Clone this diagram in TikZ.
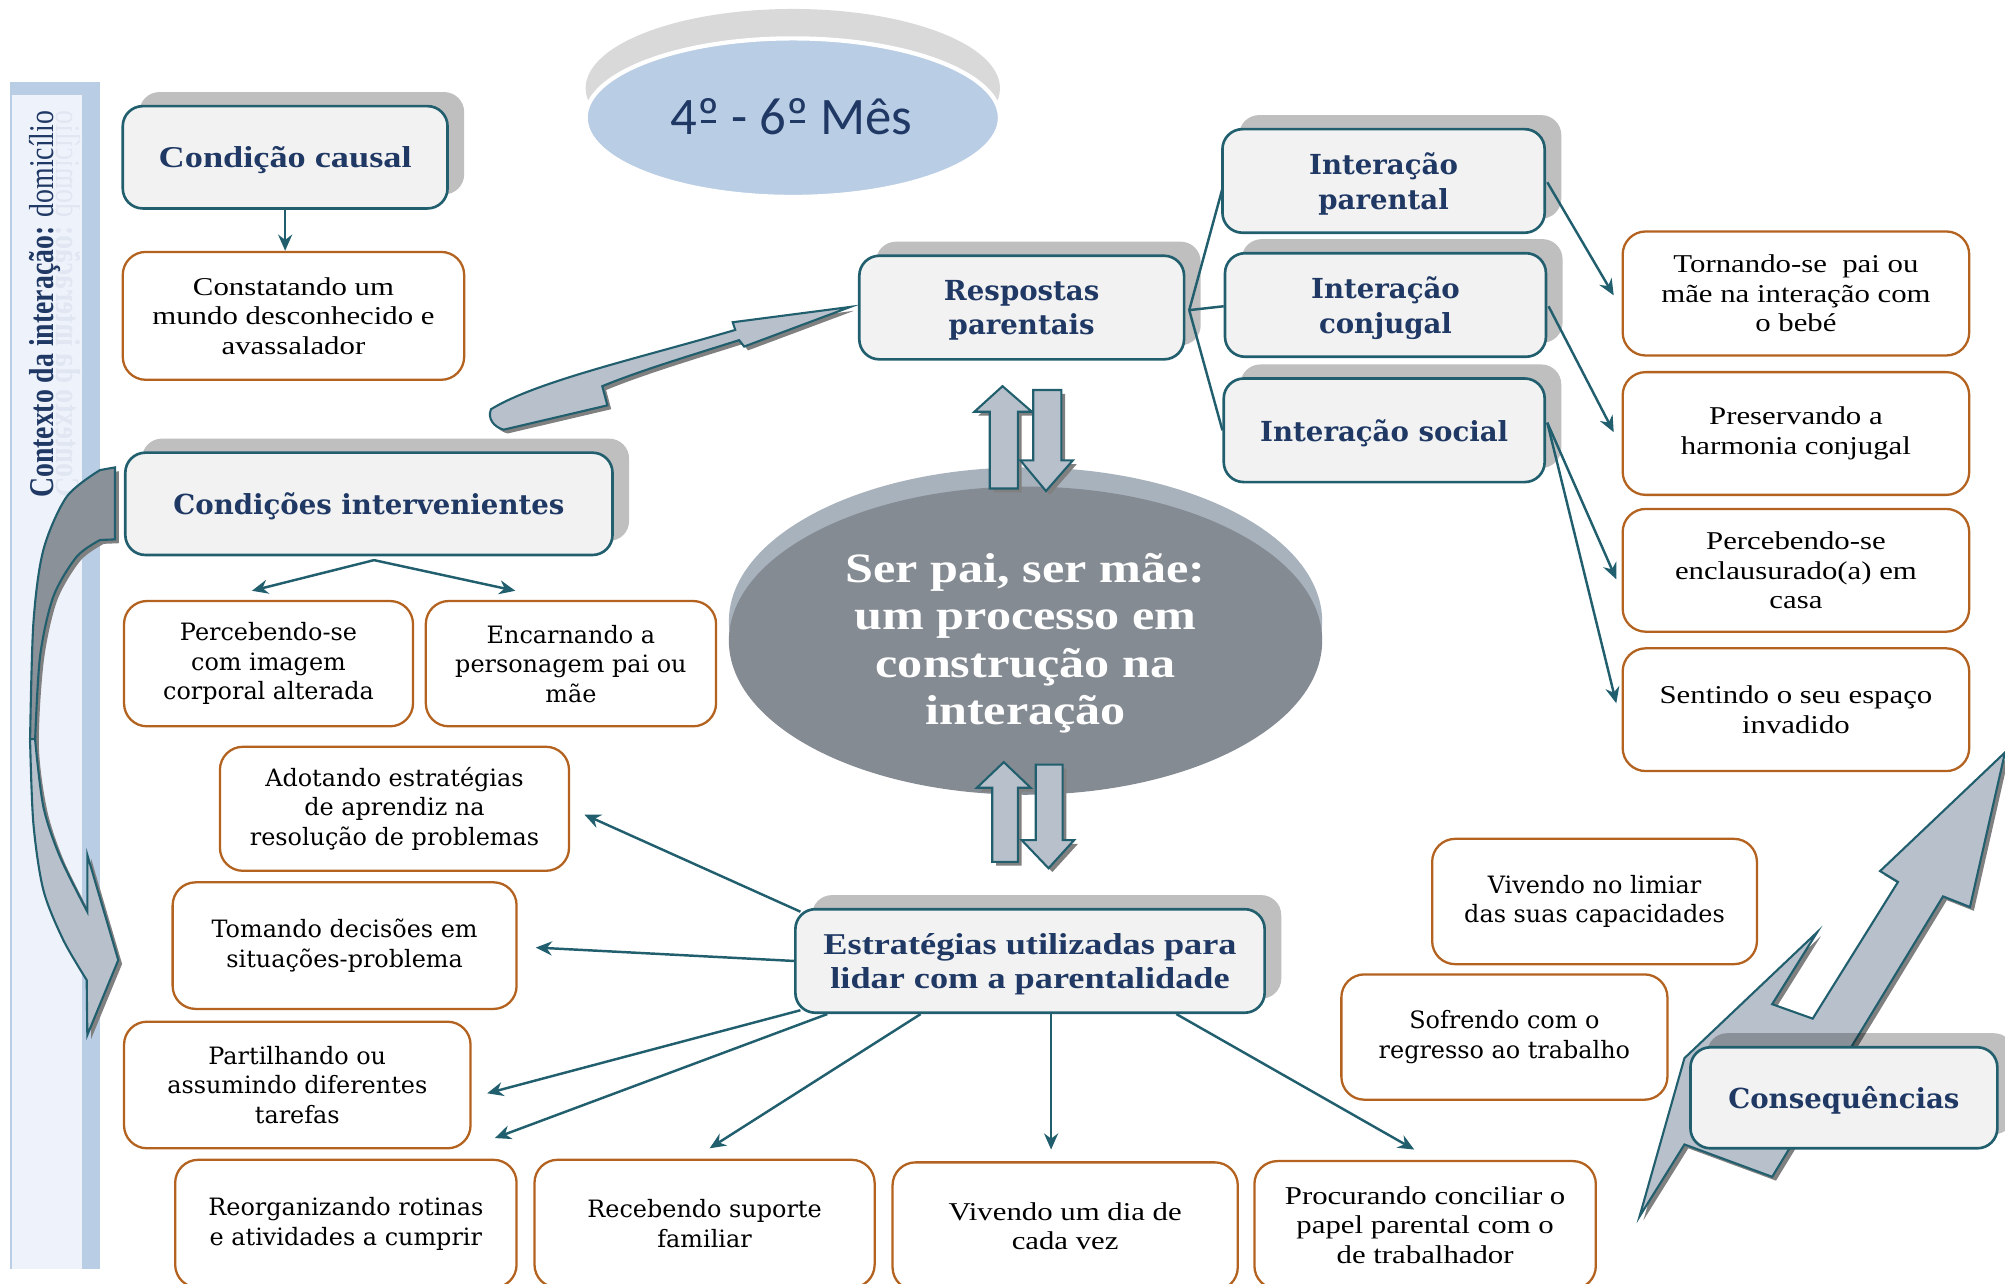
\documentclass[tikz,border=0pt]{standalone}
\usepackage{fontspec}
\setmainfont{Liberation Serif}
\newfontfamily\tms[FakeStretch=1.2]{Liberation Serif}
\newfontfamily\cen{DejaVu Serif}
\newfontfamily\calfont{Carlito}
\usetikzlibrary{arrows.meta,calc}
\definecolor{navy}{HTML}{1F3864}
\definecolor{teal0}{HTML}{215F6E}
\definecolor{brn}{HTML}{B3621F}
\definecolor{boxfill}{HTML}{F2F2F2}
\definecolor{arrfill}{HTML}{B8C1CB}
\definecolor{arrdark}{HTML}{8B9199}
\definecolor{bandblue}{HTML}{B9CDE5}
\definecolor{bandlight}{HTML}{EEF2FA}
\definecolor{ellblue}{HTML}{B9CDE5}
\definecolor{ellgray}{HTML}{D9D9D9}
\definecolor{cdark}{HTML}{858B93}
\definecolor{crim}{HTML}{A8B2BD}
\definecolor{ghost}{HTML}{E1E7F2}
\definecolor{shd}{HTML}{808080}
\newcommand\hdrT{\tms\bfseries\fontsize{8.6}{9.8}\selectfont}
\newcommand\hdrW{\cen\bfseries\fontsize{7.85}{9.8}\selectfont}
\newcommand\bxT{\tms\fontsize{7.3}{8.4}\selectfont}
\newcommand\bxW{\cen\fontsize{6.8}{8.4}\selectfont}
\newcommand\ordo{\ooalign{º\cr\hidewidth\rule[0.21em]{0.27em}{0.055em}\hidewidth\cr}}
\newcommand\shadowed[2]{\fill[shd,shift={(3,3)}] #2; \filldraw[#1] #2;}
\begin{document}
\begin{tikzpicture}[x=0.012787cm,y=-0.012787cm,
  sz/.style n args={2}{minimum width=#1*0.012787cm, minimum height=#2*0.012787cm},
  hdr/.style={draw=teal0, line width=0.75pt, fill=boxfill, rounded corners=0.2cm,
    align=center, text=navy, inner sep=1pt, text depth=-0.3pt,
    preaction={fill=black, fill opacity=0.25, draw=none, transform canvas={shift={(13,-11)}}}},
  bx/.style={draw=brn, line width=0.65pt, fill=white, rounded corners=0.23cm,
    align=center, text=black, inner sep=1pt},
  conn/.style={draw=teal0, line width=0.7pt, -{Stealth[length=4.6pt,width=4pt]}},
  link/.style={draw=teal0, line width=0.7pt},
  blk/.style={fill=arrfill, draw=teal0, line width=0.6pt, line join=miter},
  blkd/.style={fill=arrdark, draw=teal0, line width=0.6pt}
]
\path[use as bounding box, clip] (0,0) rectangle (1568,1004);

% context band
\fill[bandblue] (8,64) rectangle (78,992);
\fill[bandlight] (9.5,74) rectangle (64,992);
\node[rotate=90, yscale=-1.25, anchor=base, text=ghost, font=\fontsize{7.9}{9}\selectfont] (ctxg) at (44,238)
  {\bfseries Contexto da interação: \mdseries domicílio};
\node[rotate=90, yscale=1.25, anchor=base, text=navy, font=\fontsize{7.9}{9}\selectfont] (ctx) at (42,238)
  {\bfseries Contexto da interação: \mdseries domicílio};

% month ellipse
\fill[ellgray] (620,69) ellipse [x radius=2.0715cm, y radius=0.7928cm];
\filldraw[fill=ellblue, draw=white, line width=1.2pt] (620,92) ellipse [x radius=2.0715cm, y radius=0.7928cm];
\node[font=\calfont\fontsize{15}{17}\selectfont, text=navy] (mes) at (619,91) {4\ordo{} - 6\ordo{} Mês};

% left curved arrow
\fill[shd,shift={(3,3)}] (89.9,365.5) -- plot[smooth] coordinates {(78.2,367.6) (52.2,388.4) (33.9,430.1) (26.1,487.5) (23.5,580)}
  -- plot[smooth] coordinates {(23.5,580) (26.1,643.9) (33.9,696) (49.5,735.1) (67.8,766.4)} -- (68.3,809.4) -- (92.5,750.8) -- (68.3,668.6) -- (68.3,713)
  -- plot[smooth] coordinates {(68.3,713) (46.9,670) (33.9,630.8) (27.4,580) (31.3,513.5) (41.7,466.6) (60,435.3) (78.2,422.3)} -- (89.9,421.8) -- cycle;
\filldraw[blkd] (89.9,365.5) -- plot[smooth] coordinates {(78.2,367.6) (52.2,388.4) (33.9,430.1) (26.1,487.5) (23.5,580)}
  -- plot[smooth] coordinates {(27.4,580) (31.3,513.5) (41.7,466.6) (60,435.3) (78.2,422.3)} -- (89.9,421.8) -- cycle;
\filldraw[blk] (23.5,578) -- plot[smooth] coordinates {(23.5,578) (26.1,643.9) (33.9,696) (49.5,735.1) (67.8,766.4)}
  -- (68.3,809.4) -- (92.5,750.8) -- (68.3,668.6) -- (68.3,713)
  -- plot[smooth] coordinates {(68.3,713) (46.9,670) (33.9,630.8) (27.4,578)} -- cycle;

% curved arrow to Respostas parentais
\shadowed{blk}{(384,320) .. controls (420,298) and (500,280) .. (575,258) -- (573,252) -- (665,240) -- (582,271) -- (578,266) .. controls (540,278) and (500,290) .. (471,302) -- (475,317) -- (394,336) .. controls (386,334) and (381,327) .. (384,320) -- cycle}

% zigzag arrow to Consequencias
\shadowed{blk}{(1568,588.4) -- (1540.6,709.3) -- (1519.5,701) -- (1385.9,920.3) -- (1317.3,895) -- (1282.2,951.3) -- (1317.3,827.5) -- (1421.1,729) -- (1385.9,785.3) -- (1417.6,796.6) -- (1484.3,689.7) -- (1470.3,681.2) -- cycle}

% central ellipse
\fill[crim] (802,486) ellipse [x radius=2.9666cm, y radius=1.541cm];
\fill[cdark] (802,501) ellipse [x radius=2.9666cm, y radius=1.541cm];
\node[align=center, text=white, font=\tms\bfseries\fontsize{11.9}{13.5}\selectfont] (core) at (802,503)
  {Ser pai, ser mãe:\\um processo em\\construção na\\interação};

% double block arrows
\shadowed{blk}{(784,302) -- (807,322) -- (796,322) -- (796,382) -- (774,382) -- (774,322) -- (762,322) -- cycle}
\shadowed{blk}{(808,305) -- (830,305) -- (830,360) -- (839,360) -- (818,384) -- (798,360) -- (808,360) -- cycle}
\shadowed{blk}{(785,596) -- (806,616) -- (796,616) -- (796,674) -- (776,674) -- (776,616) -- (764,616) -- cycle}
\shadowed{blk}{(810,598) -- (831,598) -- (831,657) -- (840,657) -- (820,679) -- (799,657) -- (810,657) -- cycle}

% header boxes
\node[hdr, sz={254}{80}, font=\hdrT] (cc) at (223,123) {Condição causal};
\node[hdr, sz={254}{81}, font=\hdrW] (rp) at (799,240.5) {Respostas\\parentais};
\node[hdr, sz={252}{81}, font=\hdrW] (ip) at (1082,141.5) {Interação\\parental};
\node[hdr, sz={251}{81}, font=\hdrW] (ic) at (1083.5,238.5) {Interação\\conjugal};
\node[hdr, sz={251}{81}, font=\hdrW] (is) at (1082.5,336.5) {Interação social};
\node[hdr, sz={381}{80}, font=\hdrW] (ci) at (288.5,394) {Condições intervenientes};
\node[hdr, sz={367}{81}, font=\hdrT] (est) at (805.5,751.5) {Estratégias utilizadas para\\lidar com a parentalidade};
\node[hdr, sz={240}{79}, font=\hdrW] (cq) at (1442,858.5) {Consequências};

% brown boxes
\node[bx, sz={267}{100}, font=\bxT] (con) at (229.5,247) {Constatando um\\mundo desconhecido e\\avassalador};
\node[bx, sz={226}{98}, font=\bxW] (pci) at (210,519) {Percebendo-se\\com imagem\\corporal alterada};
\node[bx, sz={227}{98}, font=\bxW] (enc) at (446.5,519) {Encarnando a\\personagem pai ou\\mãe};
\node[bx, sz={273}{97}, font=\bxW] (ado) at (308.5,632.5) {Adotando estratégias\\de aprendiz na\\resolução de problemas};
\node[bx, sz={269}{99}, font=\bxW] (tom) at (269.5,739.5) {Tomando decisões em\\situações-problema};
\node[bx, sz={271}{99}, font=\bxW] (par) at (232.5,848.5) {Partilhando ou\\assumindo diferentes\\tarefas};
\node[bx, sz={267}{100}, font=\bxW] (reo) at (270.5,957) {Reorganizando rotinas\\e atividades a cumprir};
\node[bx, sz={266}{100}, font=\bxW] (rec) at (551,957) {Recebendo suporte\\familiar};
\node[bx, sz={270}{100}, font=\bxT] (viv) at (833,959) {Vivendo um dia de\\cada vez};
\node[bx, sz={267}{100}, font=\bxT] (pro) at (1114.5,958) {Procurando conciliar o\\papel parental com o\\de trabalhador};
\node[bx, sz={254}{98}, font=\bxW] (lim) at (1247,705) {Vivendo no limiar\\das suas capacidades};
\node[bx, sz={255}{98}, font=\bxW] (sof) at (1176.5,811) {Sofrendo com o\\regresso ao trabalho};
\node[bx, sz={271}{97}, font=\bxT] (tor) at (1404.5,229.5) {Tornando-se\ \ pai ou\\mãe na interação com\\o bebé};
\node[bx, sz={271}{96}, font=\bxT] (pre) at (1404.5,339) {Preservando a\\harmonia conjugal};
\node[bx, sz={271}{96}, font=\bxT] (enl) at (1404.5,446) {Percebendo-se\\enclausurado(a) em\\casa};
\node[bx, sz={271}{96}, font=\bxT] (sen) at (1404.5,555) {Sentindo o seu espaço\\invadido};

% connector end points
\coordinate (tA) at (197,462);
\coordinate (tB) at (403,462);
\coordinate (t1) at (1262,231);
\coordinate (t2) at (1262,338);
\coordinate (t3) at (1264,453);
\coordinate (t4) at (1264,550);
\coordinate (s1) at (457,637);
\coordinate (s2) at (419,741);
\coordinate (s3) at (381,855);
\coordinate (s4) at (387,890);
\coordinate (s5) at (555,898);
\coordinate (s6) at (822,899);
\coordinate (s7) at (1106,899);

% connectors
\draw[conn] (cc.south) -- (cc.south |- con.north);
\draw[conn] ($(ci.south)+(4,3)$) -- (tA);
\draw[conn] ($(ci.south)+(4,3)$) -- (tB);
\draw[link] ($(rp.east)+(3,2)$) -- ($(ip.west)+(1,6)$);
\draw[link] ($(rp.east)+(3,2)$) -- ($(ic.west)+(0,1)$);
\draw[link] ($(rp.east)+(3,2)$) -- (is.west);
\draw[conn] ($(ip.east)+(1,1)$) -- (t1);
\draw[conn] ($(ic.east)+(1,1)$) -- (t2);
\draw[conn] ($(is.east)+(1,-6)$) -- (t3);
\draw[conn] ($(is.east)+(1,-6)$) -- (t4);
\draw[conn] ($(est.north west)+(5,3)$) -- (s1);
\draw[conn] (est.west) -- (s2);
\draw[conn] ($(est.south west)+(5,-3)$) -- (s3);
\draw[conn] ($(est.south west)+(26,0)$) -- (s4);
\draw[conn] ($(est.south west)+(99,0)$) -- (s5);
\draw[conn] (s6 |- est.south) -- (s6);
\draw[conn] ($(est.south west)+(299,0)$) -- (s7);
\end{tikzpicture}
\end{document}
